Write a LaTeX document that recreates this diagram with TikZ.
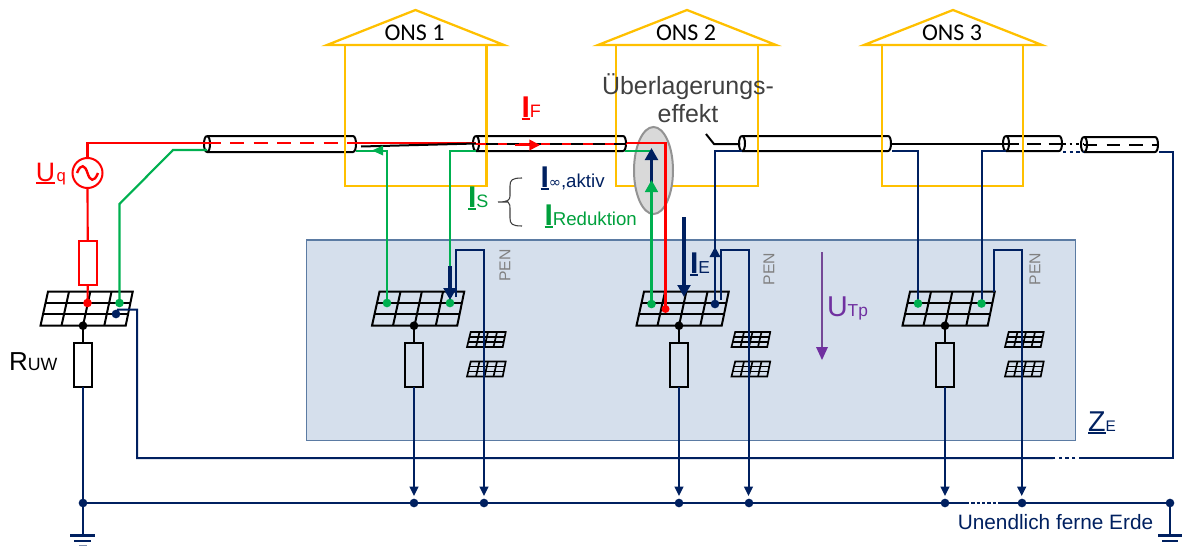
\documentclass[tikz,border=0pt]{standalone}
\usepackage{fontspec}
\setmainfont{Liberation Sans}
\newfontfamily\onsfont{Carlito}
\usetikzlibrary{arrows.meta}
\definecolor{navy}{HTML}{002060}
\definecolor{grn}{HTML}{00B050}
\definecolor{dgrn}{HTML}{00A03C}
\definecolor{ylw}{HTML}{FFC000}
\definecolor{boxfill}{HTML}{D5DFEC}
\definecolor{boxline}{HTML}{5B7BA3}
\definecolor{purp}{HTML}{7030A0}
\tikzset{
  x=0.75pt,y=-0.75pt,
  wire/.style={line width=1.6pt},
  thinwire/.style={line width=1.5pt},
  redwire/.style={wire,draw=red},
  grnwire/.style={wire,draw=grn},
  navwire/.style={thinwire,draw=navy},
  house/.style={line width=1.7pt,draw=ylw},
  res/.style={draw,line width=1.5pt,minimum width=13.5pt,minimum height=33pt,inner sep=0pt,outer sep=0pt},
  blob/.style={circle,fill,inner sep=0pt,outer sep=0pt,minimum size=#1},
  blob/.default=6.5pt,
  lab/.style={inner sep=0pt,outer sep=0pt,anchor=base west},
  tipS/.style={-{Triangle[length=7pt,width=6.5pt]}},
}
\newsavebox{\ulbox}
\newcommand{\ulI}[1]{\sbox{\ulbox}{#1}\leavevmode\rlap{\rule[-2.4pt]{\wd\ulbox}{1.3pt}}\usebox{\ulbox}}
\newcommand{\bigpanel}[1]{%
  \begin{scope}[shift={(#1,0)},line width=1.5pt,line join=miter]
    \draw (48,291.7) -- (132.7,291.7) -- (125.7,325.7) -- (40.5,325.7) -- cycle;
    \draw (45.8,303) -- (130.3,303);
    \draw (43.2,314.3) -- (128,314.3);
    \draw (69,291.7) -- (61.5,325.7);
    \draw (90.3,291.7) -- (83,325.7);
    \draw (111.5,291.7) -- (104.3,325.7);
  \end{scope}}
\newcommand{\smallpanel}[2]{%
  \begin{scope}[shift={(#1,#2)},line width=1.25pt]
    \draw (3.7,0) -- (38.7,0) -- (35.7,15) -- (0,15) -- cycle;
    \draw (2.5,5) -- (37.7,5);
    \draw (1.3,10) -- (36.7,10);
    \foreach \t/\b in {12.5/9,21/17.5,30/26.5}{\draw (\t,0) -- (\b,15);}
  \end{scope}}
\newcommand{\cable}[4]{%
  \fill[white] (#1,#3) rectangle (#2,#4);
  \draw[line width=1.5pt] (#1,#3) -- (#2-4,#3) .. controls (#2,#3) and (#2,#4) .. (#2-4,#4) -- (#1,#4);
  \draw[line width=1.5pt] (#1,#3) .. controls (#1-4,#3) and (#1-4,#4) .. (#1,#4) .. controls (#1+4,#4) and (#1+4,#3) .. (#1,#3);
}
\newcommand{\bigf}{\fontsize{22.5pt}{24pt}\selectfont}
\newcommand{\fs}[1]{\fontsize{#1pt}{#1pt}\selectfont}
\begin{document}
\begin{tikzpicture}
\useasboundingbox (0,0) rectangle (1183,546);
\draw[line width=1.3pt,draw=boxline,fill=boxfill] (306.5,240) rectangle (1075.5,440.5);
\cable{207}{357}{136}{152}
\cable{476}{627}{136}{151}
\cable{742}{892}{136}{151}
\cable{1006}{1063}{136}{151}
\cable{1084}{1159}{137}{152}
\foreach \nm/\l/\r/\a/\rl/\rr/\t in {a/345/486.5/415.5/327/504/ONS 1,b/616/757.7/687/598/776/ONS 2,c/882/1023/953/864/1042/ONS 3}{
  \draw[house] (\rl,45) -- (\a,10) -- (\rr,45) -- cycle;
  \draw[house] (\l,45) rectangle (\r,186);
  \node[inner sep=0pt,text=black] (ons\nm) at (\a-1,32.5) {\fontsize{18pt}{20pt}\onsfont \t};
}
\draw[line width=1.5pt,draw=gray!85,fill=gray!30] (653.5,170.5) ellipse [x radius=19.5,y radius=43.5];
\coordinate (srcTop) at (87.5,143);
\node[circle,draw=red,line width=1.5pt,minimum size=22.5pt,inner sep=0pt] (gen) at (87.5,173) {};
\draw[red,line width=1.8pt] (77,173) .. controls (81,163) and (85,165) .. (87.5,173) .. controls (90,181) and (94,183) .. (98,173);
\node[res,draw=red] (r0) at (87.75,263) {};
\node[res] (r1) at (83,365) {};
\node[res] (r2) at (414,365) {};
\node[res] (r3) at (679,365) {};
\node[res] (r4) at (945,365) {};
\bigpanel{0}
\bigpanel{331.5}
\bigpanel{596}
\bigpanel{862}
\smallpanel{467}{332}
\smallpanel{467}{361.5}
\smallpanel{731.5}{332}
\smallpanel{731.5}{361.5}
\smallpanel{1005}{332}
\smallpanel{1005}{361.5}
\coordinate (redDot0) at (87.5,303);
\coordinate (redDot2) at (665.5,309);
\draw[redwire] (gen.north) |- (207,143);
\draw[redwire] (gen.south) -- (r0.north);
\draw[redwire] (r0.south) -- (redDot0);
\draw[redwire,dash pattern=on 10.5pt off 7pt] (207,143) -- (357,143);
\draw[redwire] (357,143) -- (476,143);
\draw[line width=1.5pt] (361,146.5) -- (476,143.5);
\draw[redwire] (476,144) -- (627,144);
\draw[line width=1.4pt,dash pattern=on 9pt off 7pt] (486,144) -- (627,144);
\draw[redwire] (627,143) -- (665.5,143) -- (redDot2);
\node[blob,fill=red] at (redDot0) {};
\node[blob=6pt,fill=red] at (redDot2) {};
\draw[red,-{Triangle[length=8pt,width=8pt]},line width=1.2pt] (515,145) -- (540,145);
\coordinate (g0) at (119.5,303);
\coordinate (g1) at (387,303);
\coordinate (g2) at (450,303);
\coordinate (g3) at (651.5,304);
\coordinate (g4) at (918,303.5);
\coordinate (g5) at (981.5,303.5);
\draw[grnwire] (207,150) -- (173,150) -- (119.5,204) -- (g0);
\draw[grnwire] (356,151) -- (387,151) -- (g1);
\draw[grnwire] (476,151) -- (450,151) -- (g2);
\draw[grnwire] (625,151) -- (651.5,151) -- (g3);
\fill[grn] (372,150.5) -- (383,145.5) -- (383,155.5) -- cycle;
\coordinate (n0) at (116,314);
\coordinate (n3) at (715,304);
\draw[navwire] (892,151) -- (918,151) -- (g4);
\draw[navwire] (1006,151) -- (981.5,151) -- (g5);
\draw[navwire] (742,151) -- (715,151) -- (n3);
\draw[navwire,dash pattern=on 2.5pt off 2.5pt] (1063,152) -- (1084,152);
\draw[navwire] (1159,152) -- (1173,152) -- (1173,458) -- (1082,458);
\draw[navwire,dash pattern=on 2.5pt off 2.5pt] (1082,458) -- (1053,458);
\draw[navwire] (1053,458) -- (137,458) -- (137,309.5) -- (118,309.5) -- (n0);
\node[blob,fill=navy] at (n0) {};
\node[blob,fill=navy] at (n3) {};
\node[blob,fill=grn] at (g0) {};
\node[blob,fill=grn] at (g1) {};
\node[blob,fill=grn] at (g2) {};
\node[blob,fill=grn] at (g3) {};
\node[blob,fill=grn] at (g4) {};
\node[blob,fill=grn] at (g5) {};
\draw[line width=1.5pt] (706,134) -- (714,144) -- (740,144);
\draw[line width=1.5pt] (892,144) -- (1006,144);
\draw[line width=1.5pt,dash pattern=on 10pt off 6pt] (1006,144) -- (1063,144);
\draw[line width=1.5pt,dash pattern=on 2pt off 3pt] (1063,144) -- (1084,144);
\draw[line width=1.5pt,dash pattern=on 10pt off 7pt] (1084,144.5) -- (1158,144.5);
\coordinate (e0) at (83,503);
\coordinate (e1) at (414,503);
\coordinate (e2) at (484,503);
\coordinate (e3) at (679,503);
\coordinate (e4) at (749,503);
\coordinate (e5) at (945,503);
\coordinate (e6) at (1022,503);
\coordinate (e7) at (1170,503);
\draw[navwire] (e0) -- (e5);
\draw[navwire] (e5) -- (966,503);
\draw[navwire,dash pattern=on 2.5pt off 1.5pt] (966,503) -- (1000,503);
\draw[navwire] (1000,503) -- (e6);
\draw[navwire,line width=1.8pt] (e6) -- (e7);
\foreach \c in {e0,e1,e2,e3,e4,e5,e6,e7}{\node[blob,fill=navy] at (\c) {};}
\draw[line width=1.5pt] (r1.north) -- (83,325.7);
\draw[line width=1.5pt] (r2.north) -- (414,325.7);
\draw[line width=1.5pt] (r3.north) -- (679,325.7);
\draw[line width=1.5pt] (r4.north) -- (945,325.7);
\foreach \x in {83,414,679,945}{\node[blob,fill=black] at (\x,325.7) {};}
\draw[navwire] (r1.south) -- (e0);
\draw[navwire,tipS] (r2.south) -- (414,496);
\draw[navwire,tipS] (r3.south) -- (679,496);
\draw[navwire,tipS] (r4.south) -- (945,496);
\draw[navwire,tipS] (456,297) -- (456,249.5) -- (484,249.5) -- (484,496);
\draw[navwire,tipS] (720.7,300) -- (720.7,249.5) -- (748.5,249.5) -- (748.5,496);
\draw[navwire,tipS] (993.5,292) -- (993.5,250) -- (1021.7,250) -- (1021.7,496);
\node[rotate=90,text=gray,inner sep=0pt] (pen1) at (505,265.5) {\fs{11.8}PEN};
\node[rotate=90,text=gray,inner sep=0pt] (pen2) at (769,269) {\fs{11.8}PEN};
\node[rotate=90,text=gray,inner sep=0pt] (pen3) at (1035,269) {\fs{11.8}PEN};
\draw[navy,line width=1.7pt] (e0) -- (83,535);
\draw[navy,line width=1.7pt] (70,535.5) -- (95,535.5);
\draw[navy,line width=1.7pt] (74,541) -- (91,541);
\draw[navy!50,line width=1.7pt] (79,546) -- (87,546);
\draw[navy,line width=1.7pt] (e7) -- (1170,535);
\draw[navy,line width=1.7pt] (1158,535.5) -- (1182,535.5);
\draw[navy,line width=1.7pt] (1162,541) -- (1178,541);
\draw[navy,line width=2.3pt,-{Triangle[length=9pt,width=9.5pt]}] (684,217) -- (684,297);
\draw[navy,line width=2.3pt,-{Triangle[length=9pt,width=9.5pt]}] (450,266) -- (450,300);
\fill[navy] (715,247) -- (709.5,257) -- (720.5,257) -- cycle;
\draw[navy,line width=2.3pt,-{Triangle[length=9pt,width=9.5pt]}] (651.5,183) -- (651.5,148);
\draw[grn,line width=2pt,-{Triangle[length=9pt,width=9.5pt]}] (651.5,215) -- (651.5,180);
\draw[purp!70!gray,line width=2.2pt] (822,252) -- (822,350);
\fill[purp] (822,360) -- (816,347) -- (828,347) -- cycle;
\draw[line width=0.8pt,draw=black!75] (522,178) .. controls (512,178) and (510,180) .. (510,186) -- (510,196) .. controls (510,200) and (508,202) .. (498,202) (498,202) -- (508,202) .. controls (510,204) and (510,206) .. (510,208) -- (510,218) .. controls (510,224) and (512,226) .. (522,226);
\node[lab,text=red] (lUq) at (36,181) {\fs{20}\ulI{U}\fs{12.5}\kern1pt q};
\node[lab] (lRuw) at (9,370) {\fs{19.5}R\fs{13.3}UW};
\node[lab,text=red] (lIf) at (521.5,117) {\bigf\ulI{\bfseries I}\fs{13.5}F};
\node[lab,text=dgrn] (lIs) at (468,207) {\bigf\ulI{\bfseries I}\fs{13.5}S};
\node[lab,text=navy] (lIinf) at (540.5,187) {\bigf\ulI{\bfseries I}\fs{14}{\fontspec{DejaVu Sans}\fs{11}∞},aktiv};
\node[lab,text=dgrn] (lIred) at (544.5,225) {\bigf\ulI{\bfseries I}\fs{14}Reduktion};
\node[lab,text=navy] (lIe) at (690,273) {\bigf\ulI{\bfseries I}\fs{13}E};
\node[lab,text=purp] (lUtp) at (827,316) {\fs{21.5}U\fs{13}Tp};
\node[lab,text=navy] (lZe) at (1088,431) {\fs{21.5}\ulI{Z}\fs{11.5}E};
\node[inner sep=0pt,text=navy] (lErde) at (1055.5,522) {\fs{15.6}Unendlich ferne Erde};
\node[inner sep=0pt,text=black!75,align=center,font=\fontsize{18.7pt}{21pt}\selectfont] (lUeb) at (688,98) {Überlagerungs-\\effekt};
\end{tikzpicture}
\end{document}
